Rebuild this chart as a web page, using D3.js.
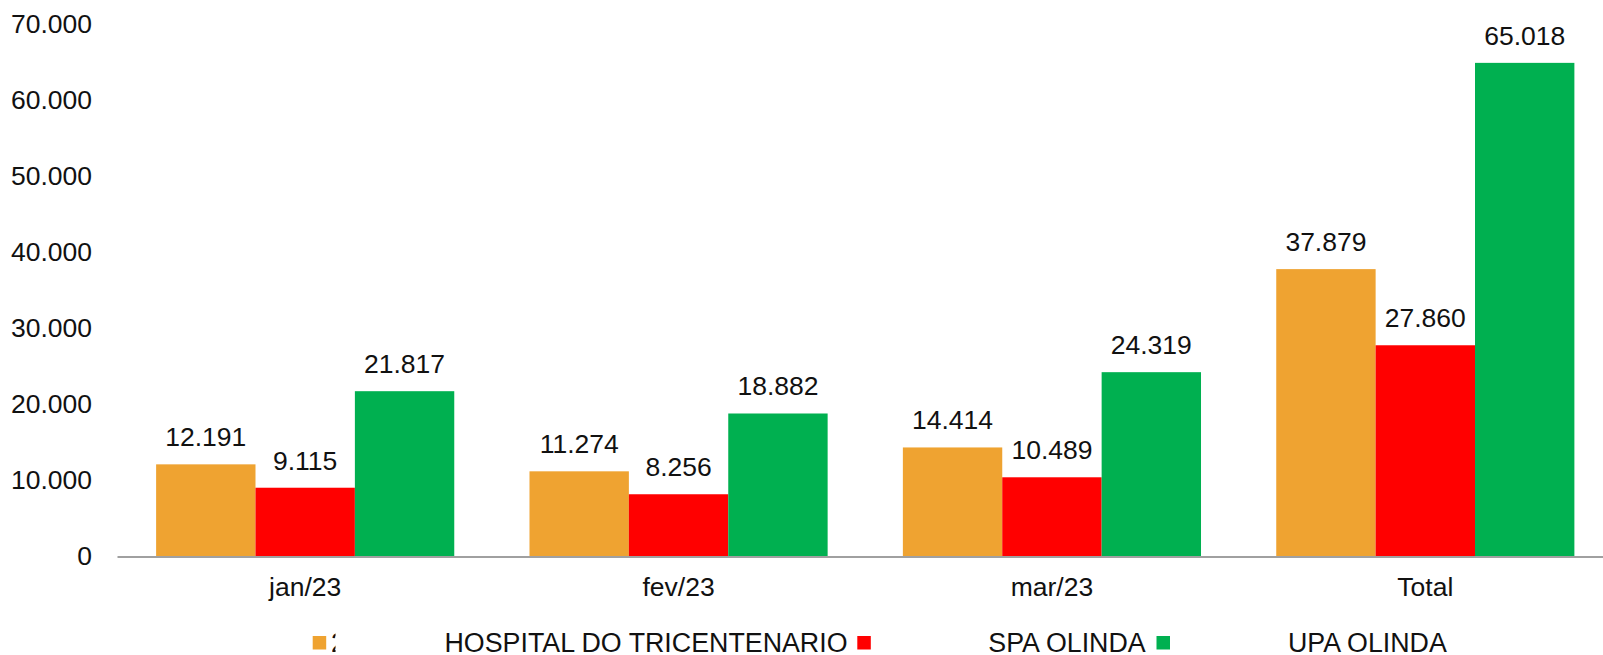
<!DOCTYPE html>
<html>
<head>
<meta charset="utf-8">
<script src="https://cdn.jsdelivr.net/npm/d3@7"></script>
<style>
  body { margin: 0; background: #fff; }
  svg text { font-family: "Liberation Sans", Arial, sans-serif; fill: #111; }
</style>
</head>
<body>
<div id="chart"></div>
<script>
var width = 1603
var height = 655

// data
var categories = ["jan/23", "fev/23", "mar/23", "Total"]
var seriesNames = ["HOSPITAL DO TRICENTENARIO", "SPA OLINDA", "UPA OLINDA"]
var hospital = [12191, 11274, 14414, 37879]
var spa = [9115, 8256, 10489, 27860]
var upa = [21817, 18882, 24319, 65018]
var yTicks = [0, 10000, 20000, 30000, 40000, 50000, 60000, 70000]
var colors = ["#EFA331", "#FF0000", "#00B050"]

var seriesValues = [hospital, spa, upa]

// plot area (the category axis runs a bit past the right edge, as in the original)
var plotLeft = 118.5
var plotRight = 1612
var plotTop = 25
var plotBottom = 557

var locale = d3.formatLocale({ decimal: ",", thousands: ".", grouping: [3], currency: ["R$", ""] })
var fmt = locale.format(",.0f")

var svg = d3.select("#chart")
  .append("svg")
  .attr("width", width)
  .attr("height", height)

var x0 = d3.scaleBand()
  .domain(categories)
  .range([plotLeft, plotRight])
  .padding(0)

var gap = x0.bandwidth() * 0.2015
var x1 = d3.scaleBand()
  .domain(seriesNames)
  .range([gap / 2, x0.bandwidth() - gap / 2])
  .padding(0)

var y = d3.scaleLinear()
  .domain([0, 70000])
  .range([plotBottom, plotTop])

// y axis labels only, no line
var yAxis = svg.append("g")
  .attr("transform", "translate(97,0)")
  .call(d3.axisLeft(y).tickValues(yTicks).tickSize(0).tickPadding(5).tickFormat(fmt))
yAxis.select(".domain").remove()
yAxis.selectAll("text")
  .attr("dy", "0.3em")
  .style("font-size", "26.5px")
  .style("font-family", "'Liberation Sans', Arial, sans-serif")
  .attr("fill", "#111")

// bars
var rows = []
categories.forEach(function (c, i) {
  seriesNames.forEach(function (s, j) {
    rows.push({ cat: c, series: s, idx: j, value: seriesValues[j][i] })
  })
})

svg.append("g")
  .selectAll("rect")
  .data(rows)
  .enter()
  .append("rect")
  .attr("x", function (d) { return x0(d.cat) + x1(d.series) })
  .attr("y", function (d) { return y(d.value) })
  .attr("width", x1.bandwidth())
  .attr("height", function (d) { return y(0) - y(d.value) })
  .attr("fill", function (d) { return colors[d.idx] })

// value labels
svg.append("g")
  .selectAll("text")
  .data(rows)
  .enter()
  .append("text")
  .attr("x", function (d) { return x0(d.cat) + x1(d.series) + x1.bandwidth() / 2 })
  .attr("y", function (d) { return y(d.value) - 18 })
  .attr("text-anchor", "middle")
  .style("font-size", "26.5px")
  .text(function (d) { return fmt(d.value) })

// category axis
var xAxis = svg.append("g")
  .attr("transform", "translate(0," + plotBottom + ")")
  .call(d3.axisBottom(x0).tickSize(0).tickPadding(20))
xAxis.select(".domain")
  .attr("stroke", "#A0A0A0")
  .attr("stroke-width", 2)
  .attr("d", "M" + (plotLeft - 1) + ",0H" + plotRight)
xAxis.selectAll("text")
  .style("font-size", "26.5px")
  .style("font-family", "'Liberation Sans', Arial, sans-serif")
  .attr("fill", "#111")
  .attr("dy", "0.71em")

// legend (the original one is cut off at the bottom edge)
var legendSquareX = [312.7, 857.3, 1156.5]
var legendTextX = [444.5, 988.3, 1288]

var legend = svg.append("g")
legend.selectAll("rect")
  .data(seriesNames)
  .enter()
  .append("rect")
  .attr("x", function (d, i) { return legendSquareX[i] })
  .attr("y", 636)
  .attr("width", 13.5)
  .attr("height", 13.5)
  .attr("fill", function (d, i) { return colors[i] })

legend.selectAll("text.lbl")
  .data(seriesNames)
  .enter()
  .append("text")
  .attr("class", "lbl")
  .attr("x", function (d, i) { return legendTextX[i] })
  .attr("y", 652)
  .style("font-size", "26.8px")
  .text(function (d) { return d })

// little clipped glyph right after the first square
svg.append("clipPath")
  .attr("id", "stub")
  .append("rect")
  .attr("x", 332)
  .attr("y", 630)
  .attr("width", 3.5)
  .attr("height", 25)
legend.append("text")
  .attr("x", 331)
  .attr("y", 652)
  .attr("clip-path", "url(#stub)")
  .style("font-size", "26.8px")
  .text("2")
</script>
</body>
</html>
